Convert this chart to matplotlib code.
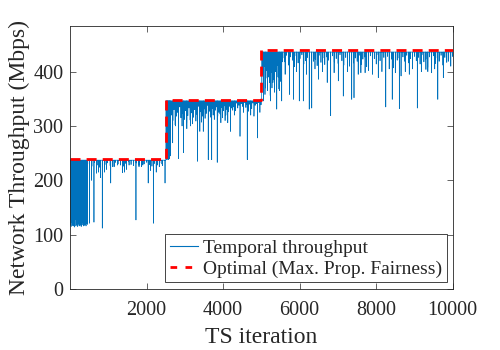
import numpy as np
import matplotlib
matplotlib.use("Agg")
import matplotlib.pyplot as plt
from matplotlib.lines import Line2D

# ---- data ----
# optimal (max. proportional fairness) throughput, step function
opt_x = [1, 2500, 2500, 5000, 5000, 10000]
opt_y = [240, 240, 348, 348, 440, 440]

# upper level of the temporal throughput in each phase
phase_end = [2500, 5000, 10000]
phase_top = [237, 346, 436]

# dense bursts / bands: (start, end) and the dip values inside them
blk1_span = (2, 450)
blk1_vals = [118, 140, 115, 122, 180, 117, 125, 116, 150, 119, 114, 128, 170, 116,
             121, 118, 135, 115, 190, 120, 117, 124, 116, 160, 119, 115, 130, 118,
             122, 200, 116, 120, 117, 145, 118, 123, 116, 175, 121, 119]
band1_span = (500, 2480)
band1_vals = [230, 226, 233, 228, 224, 231, 229, 232, 227, 225, 233, 230, 228, 226,
              231, 234, 229, 227, 232, 228, 225, 230, 233, 229, 226, 231, 228, 232,
              227, 230]
blk2_span = (2502, 2620)
blk2_vals = [240, 255, 238, 270, 242, 290, 239, 250, 300, 245]
band2_span = (2625, 4250)
band2_vals = [305, 320, 310, 330, 302, 318, 325, 308, 335, 315, 300, 322, 312, 328,
              306, 319, 333, 311, 324, 304, 316, 330, 309, 321, 336, 313, 326, 307,
              318, 331, 314, 323, 338, 310, 327, 316, 332, 320, 312, 329, 335, 318,
              325, 322, 334, 315, 328, 337, 320, 330, 326, 336, 324, 333, 329]
band2b_span = (4260, 4990)
band2b_vals = [335, 340, 328, 342, 333, 338, 326, 341, 336, 330, 343, 334, 339, 327,
               340, 337, 332, 342, 329, 338, 341, 335, 343, 331, 339]
blk3_span = (5002, 5550)
blk3_vals = [360, 395, 372, 410, 358, 388, 402, 365, 415, 380, 356, 398, 370, 408,
             385, 362, 400, 376, 412, 390, 368, 405, 382, 395, 418]
band3_span = (5560, 9995)
band3_vals = [425, 418, 430, 412, 427, 421, 409, 429, 416, 424, 431, 414, 420, 426,
              408, 428, 419, 423, 411, 430, 417, 425, 413, 427, 421, 406, 429, 418,
              424, 415, 431, 420, 412, 426, 422, 410, 428, 416, 425, 419, 430, 413,
              423, 427, 409, 421, 429, 417, 424, 414, 431, 420, 411, 426, 418, 428,
              415, 423, 407, 429, 421, 425, 412, 427, 419, 430, 416, 424, 410, 428,
              420, 426, 414, 431, 418, 423, 408, 427, 421, 429, 415, 425, 419, 430,
              412, 426, 417, 424, 420, 428]

# isolated deep drops (iteration, throughput)
spike_x = [505, 560, 622, 692, 740, 790, 840, 900, 950, 1060, 1150, 1240, 1365, 1420,
           1470, 1540, 1720, 1800, 1900, 2040, 2100, 2175, 2250, 2330, 2400, 2480,
           2560, 2600, 2680, 2750, 2830, 2960, 3050, 3150, 3325, 3390, 3480, 3610,
           3700, 3845, 3940, 4050, 4120, 4195, 4300, 4440, 4530, 4630, 4720, 4805,
           4900, 4960,
           5050, 5110, 5180, 5240, 5300, 5400, 5470, 5530, 5620, 5730, 5835, 5920,
           5990, 6095, 6180, 6250, 6315, 6400, 6490, 6600, 6720, 6810, 6900, 7010,
           7140, 7250, 7360, 7420, 7530, 7600, 7710, 7800, 7900, 8055, 8150, 8250,
           8340, 8420, 8500, 8605, 8650, 8760, 8865, 8950, 9075, 9180, 9300, 9350,
           9450, 9530, 9610, 9755, 9885, 9950]
spike_y = [121, 200, 123, 213, 215, 205, 112, 215, 220, 195, 225, 228, 214, 215,
           220, 228, 127, 225, 228, 195, 218, 121, 215, 225, 230, 195,
           238, 240, 269, 300, 240, 251, 295, 300, 235, 290, 290, 238,
           238, 233, 306, 310, 306, 290, 320, 281, 325, 238, 320, 318,
           278, 325,
           346, 370, 390, 346, 380, 331, 365, 346, 395, 358, 349, 400,
           346, 346, 395, 331, 333, 405, 386, 400, 380, 319, 398, 383,
           355, 400, 349, 352, 395, 398, 398, 402, 395, 389, 400, 335,
           405, 349, 398, 332, 392, 400, 395, 405, 333, 400, 404, 400,
           398, 405, 349, 389, 419, 410]

# ---- build the temporal series ----
ts = np.arange(1, 10001)
thr = np.full(ts.shape, float(phase_top[-1]))
for end, top in zip(phase_end[::-1], phase_top[::-1]):
    thr[ts <= end] = top
for span, vals in [(blk1_span, blk1_vals), (band1_span, band1_vals),
                   (blk2_span, blk2_vals), (band2_span, band2_vals),
                   (band2b_span, band2b_vals), (blk3_span, blk3_vals),
                   (band3_span, band3_vals)]:
    pos = np.linspace(span[0], span[1], len(vals)).astype(int)
    thr[pos - 1] = vals
thr[np.array(spike_x) - 1] = spike_y

# ---- plotting ----
plt.rcParams['font.family'] = ['Liberation Serif', 'DejaVu Serif']
txt = '#262626'
blue = '#0072BD'
red = '#FF0000'

fig = plt.figure(figsize=(5, 3.5), dpi=100)
ax = fig.add_axes([0.1404, 0.1743, 0.765, 0.7514])

ax.plot(ts, thr, color=blue, lw=0.5)
ax.plot(opt_x, opt_y, color=red, lw=2, dashes=(3.6, 2.2))

ax.set_xticks([2000, 4000, 6000, 8000, 10000])
ax.set_yticks([0, 100, 200, 300, 400])
ax.set_xlim(1, 10000)
ax.set_ylim(0, 484)

ax.tick_params(direction='in', top=True, right=True, length=4, width=0.5,
               colors=txt, labelsize=14.5)
ax.tick_params(axis='x', pad=9)
ax.tick_params(axis='y', pad=5)
for s in ax.spines.values():
    s.set_linewidth(0.6)
    s.set_color(txt)

ax.set_xlabel('TS iteration', fontsize=17, color=txt, labelpad=5)
ax.set_ylabel('Network Throughput (Mbps)', fontsize=17, color=txt, labelpad=2)

# legend proxies (two short dashes, like the reference legend)
handles = [Line2D([], [], color=blue, lw=0.8),
           Line2D([], [], color=red, lw=2, dashes=(2.4, 3.0))]
labels = ['Temporal throughput', 'Optimal (Max. Prop. Fairness)']
leg = ax.legend(handles, labels, loc='lower right', bbox_to_anchor=(0.986, 0.025),
                borderaxespad=0, fontsize=14, fancybox=False, framealpha=1,
                edgecolor=txt, handlelength=1.45, handletextpad=0.25,
                labelspacing=0.15, borderpad=0.25)
leg.get_frame().set_linewidth(0.6)
for t in leg.get_texts():
    t.set_color(txt)

fig.savefig('out.png', dpi=100)
